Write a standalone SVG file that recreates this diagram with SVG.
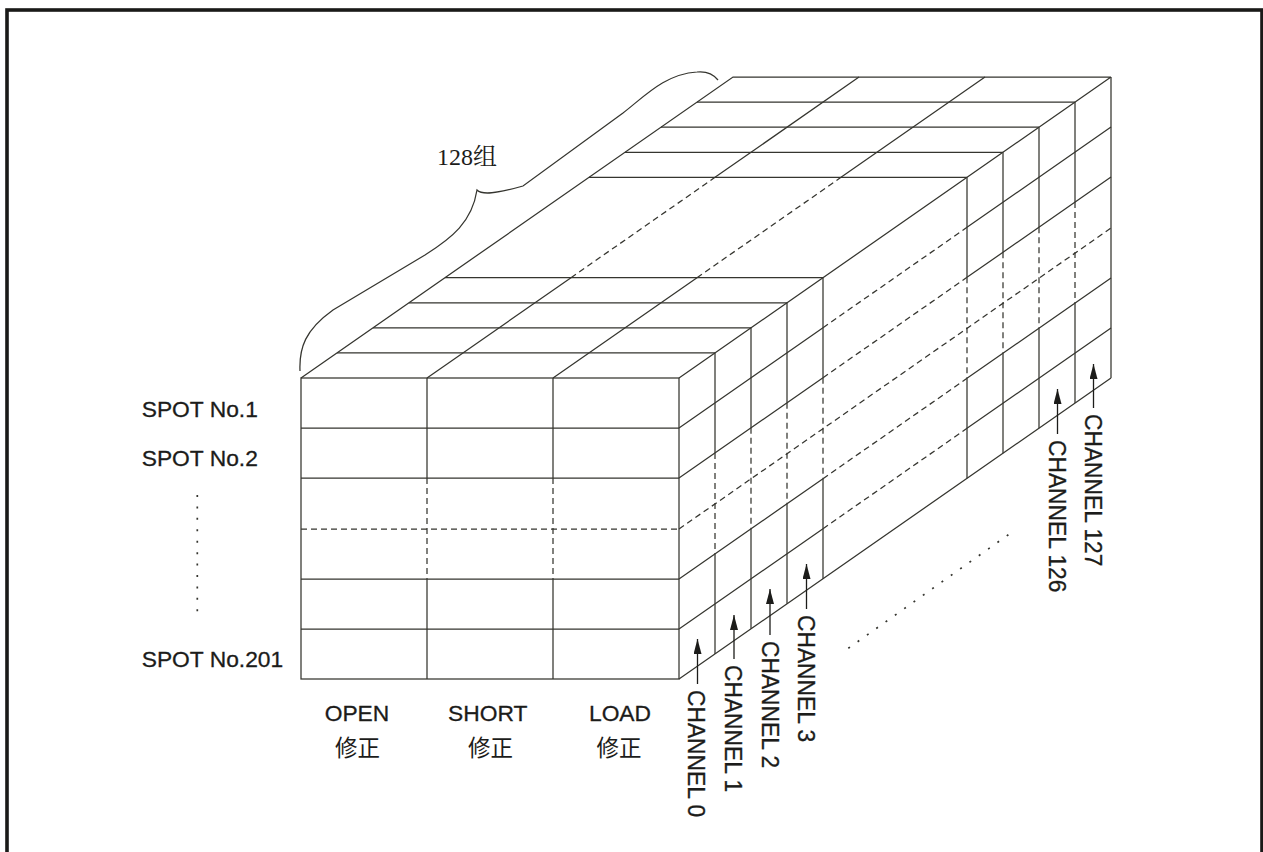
<svg xmlns="http://www.w3.org/2000/svg" width="1263" height="852" viewBox="0 0 1263 852">
<defs>
<style>
.s{stroke:#35352f;stroke-width:1.25;fill:none}
.d{stroke:#35352f;stroke-width:1.25;fill:none;stroke-dasharray:6 4}
.dot{stroke:#35352f;stroke-width:1.7;fill:none;stroke-dasharray:2 9.43}
.lat{font-family:"Liberation Sans",Arial,sans-serif;font-size:22.8px;fill:#1c1c1a;stroke:#1c1c1a;stroke-width:0.3}
.cjk{font-family:"Noto Sans CJK SC","Noto Sans CJK JP",sans-serif;font-size:22.5px;fill:#1c1c1a}
.ser{font-family:"Liberation Serif","Noto Serif CJK SC","Noto Sans CJK SC",serif;font-size:24px;fill:#1c1c1a}
.arr{stroke:#1c1c1a;stroke-width:1.3;fill:none;marker-end:url(#ah)}
</style>
<marker id="ah" markerUnits="userSpaceOnUse" markerWidth="16" markerHeight="8" refX="15" refY="4" orient="auto">
<path d="M0,0 L15,4 L0,8 Z" fill="#1c1c1a"/>
</marker>
</defs>
<rect width="1263" height="852" fill="#ffffff"/>
<rect id="frame" x="7" y="10" width="1255" height="900" fill="none" stroke="#1a1a18" stroke-width="3.6"/>

<g id="front-face">
<rect class="s" x="301" y="378" width="378" height="301"/>
<path class="s" d="M301,428H679M301,478H679M301,579H679M301,629H679"/>
<path class="d" d="M301,529H679"/>
<path class="s" d="M427,378V478M427,579V679M553,378V478M553,579V679"/>
<path class="d" d="M427,478V579M553,478V579"/>
</g>

<g id="top-face">
<path class="s" d="M301,378L733,77.04H1111M679,378L1111,77.04"/>
<path class="s" d="M337,352.92H715M373,327.84H751M409,302.76H787M445,277.68H823"/>
<path class="s" d="M589,177.36H967M625,152.28H1003M661,127.2H1039M697,102.12H1075"/>
<path class="s" d="M427,378L571,277.68M715,177.36L859,77.04M553,378L697,277.68M841,177.36L985,77.04"/>
<path class="d" d="M571,277.68L715,177.36M697,277.68L841,177.36"/>
</g>

<g id="side-face">
<path class="s" d="M679,679L1111,378.04M1111,77.04V378.04"/>
<path class="s" d="M715,352.92V452.92M715,553.92V653.92M751,327.84V427.84M751,528.84V628.84M787,302.76V402.76M787,503.76V603.76M823,277.68V377.68M823,478.68V578.68"/>
<path class="d" d="M715,452.92V553.92M751,427.84V528.84M787,402.76V503.76M823,377.68V478.68"/>
<path class="s" d="M967,177.36V277.36M967,378.36V478.36M1003,152.28V252.28M1003,353.28V453.28M1039,127.2V227.2M1039,328.2V428.2M1075,102.12V202.12M1075,303.12V403.12"/>
<path class="d" d="M967,277.36V378.36M1003,252.28V353.28M1039,227.2V328.2M1075,202.12V303.12"/>
<path class="s" d="M679,428L823,327.68M967,227.36L1111,127.04M679,478L823,377.68M967,277.36L1111,177.04M679,579L823,478.68M967,378.36L1111,278.04M679,629L823,528.68M967,428.36L1111,328.04"/>
<path class="d" d="M823,327.68L967,227.36M823,377.68L967,277.36M823,478.68L967,378.36M823,528.68L967,428.36M679,529L1111,228.04"/>
</g>

<g id="brace">
<path class="s" d="M300,371 C299,348 305,330 333,310 L425,255 C452,238 472,222 477,190 C482,195 495,194 523,186 L623,113 C645,96 665,74 697,72 C707,71 714,75 718,80"/>
<text class="ser" x="437" y="165">128组</text>
</g>

<g id="row-labels">
<text class="lat" x="141.7" y="416.7">SPOT No.1</text>
<text class="lat" x="141.7" y="466">SPOT No.2</text>
<path class="dot" d="M197.3,495V612"/>
<text class="lat" x="141.7" y="666.7">SPOT No.201</text>
</g>

<g id="column-labels">
<text class="lat" x="357" y="721" text-anchor="middle" font-size="22">OPEN</text>
<text class="cjk" x="357.5" y="756" text-anchor="middle">修正</text>
<text class="lat" x="487.7" y="721" text-anchor="middle" font-size="22">SHORT</text>
<text class="cjk" x="490.5" y="756" text-anchor="middle">修正</text>
<text class="lat" x="620" y="721" text-anchor="middle" font-size="22">LOAD</text>
<text class="cjk" x="619" y="756" text-anchor="middle">修正</text>
</g>

<g id="connectors">
<path class="arr" d="M697.5,684V639"/>
<path class="arr" d="M734,659V615"/>
<path class="arr" d="M770,635V589"/>
<path class="arr" d="M806.5,609V564"/>
<path class="arr" d="M1057.5,434V389"/>
<path class="arr" d="M1093.5,408V364"/>
</g>

<g id="channel-labels">
<text class="lat" transform="translate(688,690) rotate(90) scale(1,1.08)">CHANNEL 0</text>
<text class="lat" transform="translate(725,665) rotate(90) scale(1,1.08)">CHANNEL 1</text>
<text class="lat" transform="translate(761.5,641) rotate(90) scale(1,1.08)">CHANNEL 2</text>
<text class="lat" transform="translate(798,615) rotate(90) scale(1,1.08)">CHANNEL 3</text>
<text class="lat" transform="translate(1049,440) rotate(90) scale(1,1.08)">CHANNEL 126</text>
<text class="lat" transform="translate(1085,414) rotate(90) scale(1,1.08)">CHANNEL 127</text>
<path class="dot" d="M848.3,648.3L1016,529.3"/>
</g>
</svg>
